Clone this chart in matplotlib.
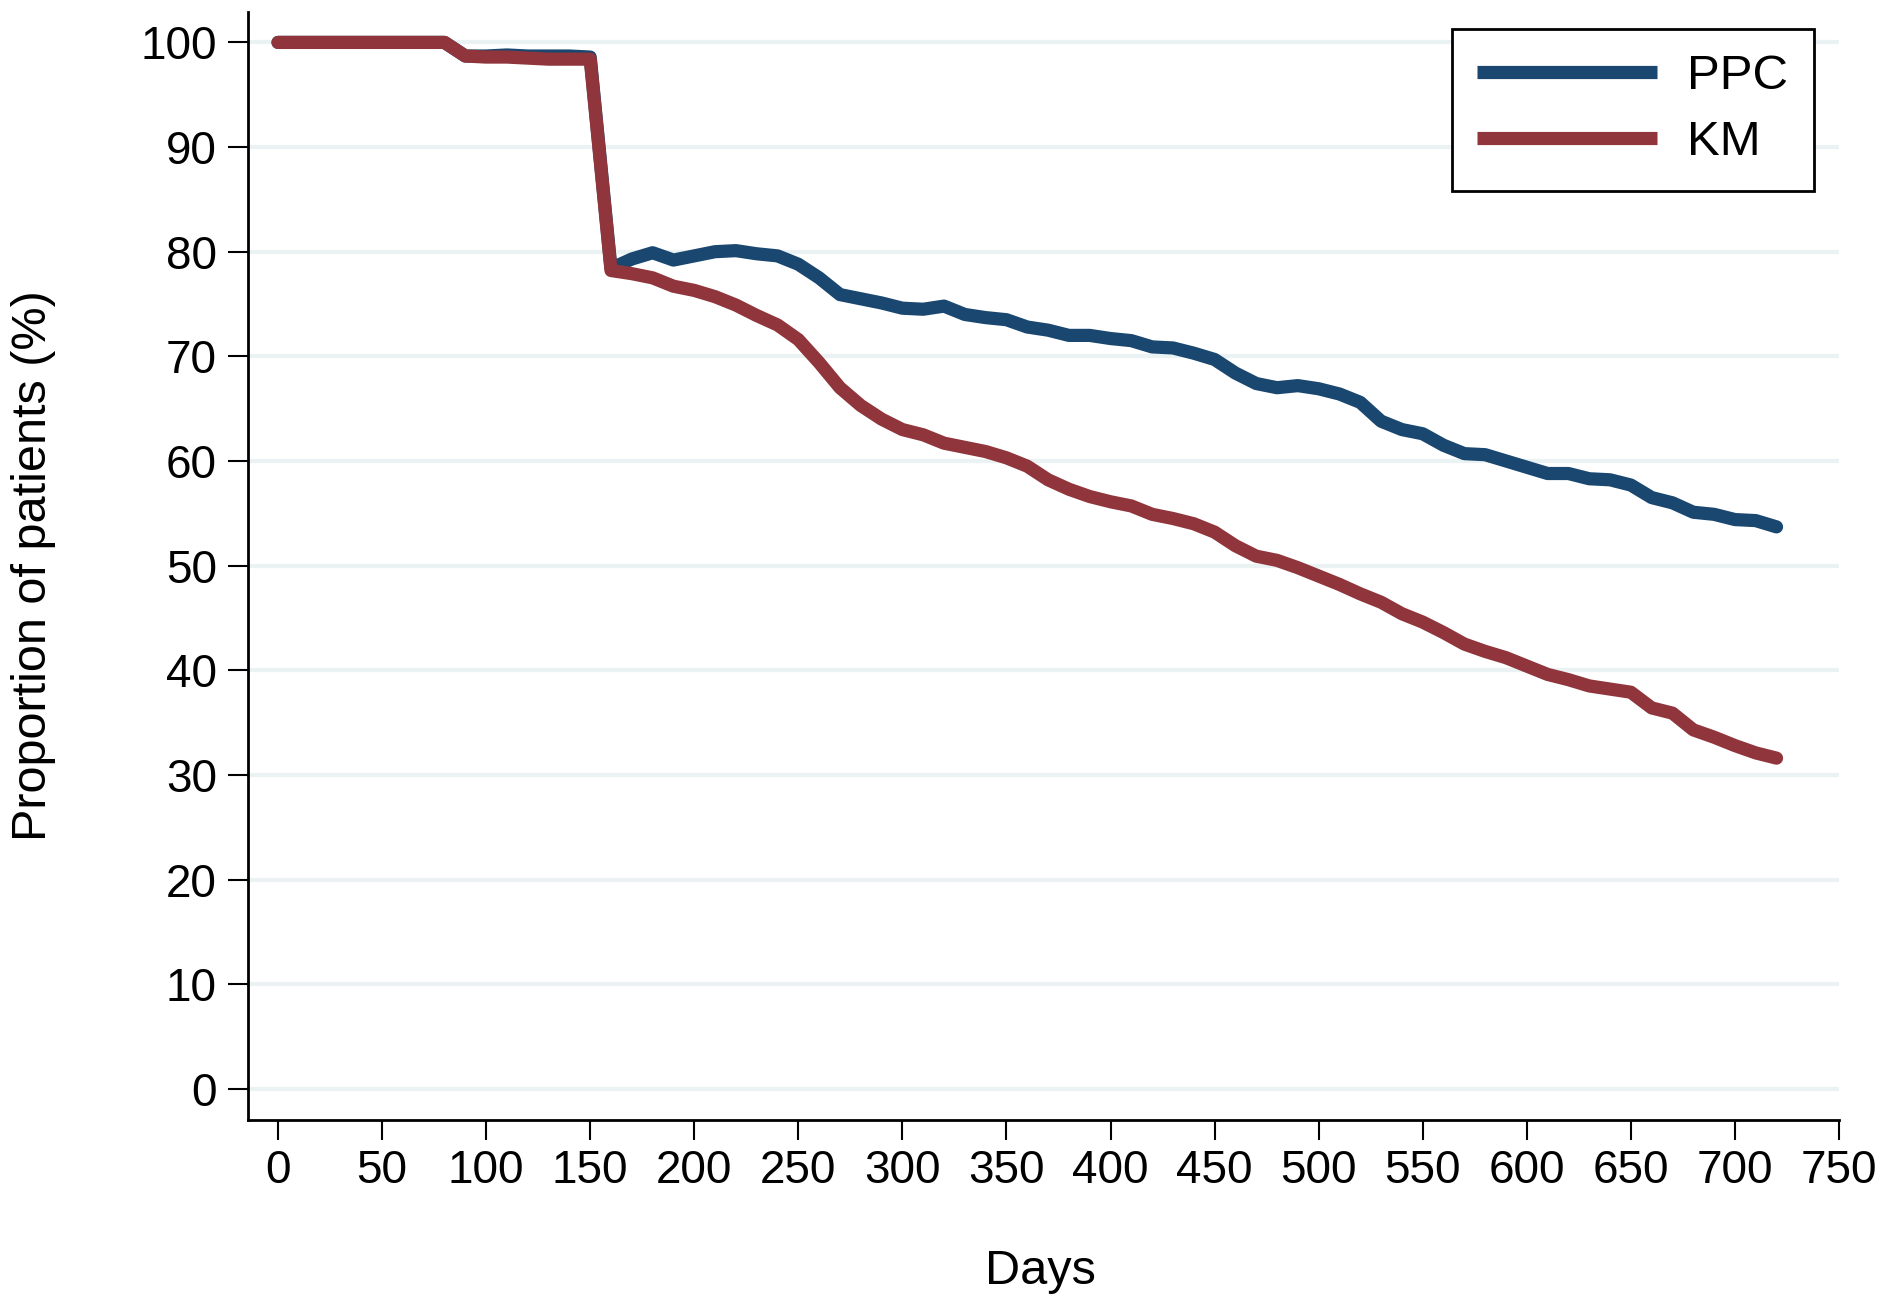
import numpy as np
import matplotlib
matplotlib.use('Agg')
import matplotlib.pyplot as plt

plt.rcParams['font.family'] = ['Liberation Sans', 'DejaVu Sans']

# days 0..720 in 10 day steps
days = np.arange(0, 730, 10)

ppc = [100, 100, 100, 100, 100, 100, 100, 100, 100,
       98.7, 98.7, 98.8, 98.7, 98.7, 98.7, 98.6,
       78.4, 79.3, 79.9, 79.2, 79.6, 80.0, 80.1, 79.8, 79.6, 78.8,
       77.5, 75.9, 75.5, 75.1, 74.6, 74.5, 74.8, 74.0, 73.7, 73.5,
       72.8, 72.5, 72.0, 72.0, 71.7, 71.5, 70.9, 70.8, 70.3, 69.7,
       68.4, 67.4, 67.0, 67.2, 66.9, 66.4, 65.6, 63.8, 63.0, 62.6,
       61.5, 60.7, 60.6, 60.0, 59.4, 58.8, 58.8, 58.3, 58.2, 57.7,
       56.5, 56.0, 55.1, 54.9, 54.4, 54.3, 53.7]

km = [100, 100, 100, 100, 100, 100, 100, 100, 100,
      98.7, 98.6, 98.6, 98.5, 98.4, 98.4, 98.4,
      78.2, 77.9, 77.5, 76.7, 76.3, 75.7, 74.9, 73.9, 73.0, 71.6,
      69.4, 67.0, 65.3, 64.0, 63.0, 62.5, 61.7, 61.3, 60.9, 60.3,
      59.5, 58.2, 57.3, 56.6, 56.1, 55.7, 54.9, 54.5, 54.0, 53.2,
      51.9, 50.9, 50.5, 49.8, 49.0, 48.2, 47.3, 46.5, 45.4, 44.6,
      43.6, 42.5, 41.8, 41.2, 40.4, 39.6, 39.1, 38.5, 38.2, 37.9,
      36.4, 35.9, 34.3, 33.6, 32.8, 32.1, 31.6]

xticks = np.arange(0, 800, 50)
yticks = np.arange(0, 110, 10)

fig = plt.figure(figsize=(18.79, 12.98), dpi=100)
ax = fig.add_axes([0.132, 0.137, 0.8467, 0.8537])

for y in yticks:
    ax.axhline(y, color='#eaf2f3', lw=3, zorder=0)

ax.plot(days, ppc, color='#1a476f', lw=9.5, solid_capstyle='round',
        solid_joinstyle='round', label='PPC')
ax.plot(days, km, color='#90353b', lw=9.5, solid_capstyle='round',
        solid_joinstyle='round', label='KM')

ax.set_xlim(-14.4, 750)
ax.set_ylim(-3.0, 102.9)
ax.set_xticks(xticks)
ax.set_yticks(yticks)

for s in ['top', 'right']:
    ax.spines[s].set_visible(False)
for s in ['left', 'bottom']:
    ax.spines[s].set_linewidth(2)

ax.tick_params(axis='both', direction='out', length=14.5, width=1.5,
               labelsize=33)
ax.tick_params(axis='x', pad=6)
ax.tick_params(axis='y', pad=8)

ax.set_xlabel('Days', fontsize=35)
ax.set_ylabel('Proportion of patients (%)', fontsize=35)
ax.xaxis.set_label_coords(0.498, -0.116)
ax.yaxis.set_label_coords(-0.121, 0.5)

leg = ax.legend(loc='upper right', bbox_to_anchor=(0.984, 0.985),
                borderaxespad=0, fontsize=35.5, fancybox=False,
                edgecolor='black', framealpha=1, handlelength=3.65,
                handletextpad=0.6, labelspacing=0.42, borderpad=0.52)
leg.get_frame().set_linewidth(2)
for h in leg.get_lines():
    h.set_solid_capstyle('butt')

plt.savefig('out.png', dpi=100)
